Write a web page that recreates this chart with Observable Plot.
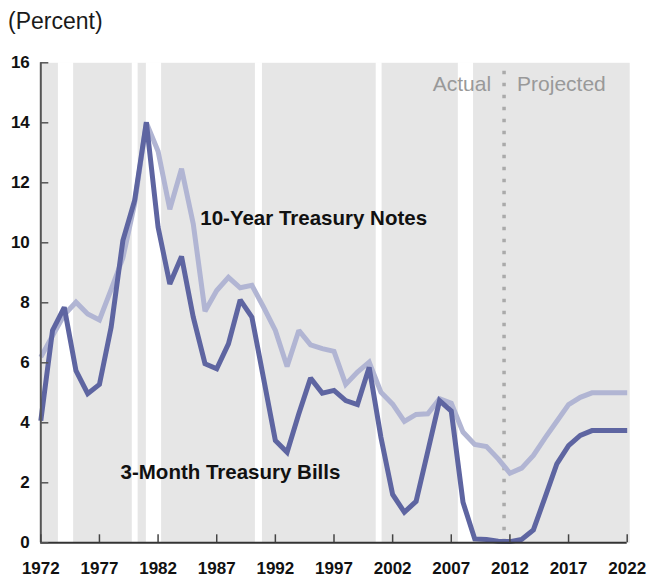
<!DOCTYPE html>
<html>
<head>
<meta charset="utf-8">
<script src="https://cdn.jsdelivr.net/npm/d3@7"></script>
<script src="https://cdn.jsdelivr.net/npm/@observablehq/plot@0.6"></script>
<style>
  body { margin: 0; background: #fff; }
  #sub { height: 36px; box-sizing: border-box; padding: 10px 0 0 8px; font: 23px/23px "Liberation Sans", Arial, sans-serif; color: #1a1a1a; }
  #chart svg { display: block; }
  g[aria-label="y-axis tick label"] text, g[aria-label="x-axis tick label"] text { font-weight: bold; font-size: 17px; fill: #111; }
</style>
</head>
<body>
<div id="sub">(Percent)</div>
<div id="chart"></div>
<script>
const years = d3.range(1972, 2023);
const bills = [4.07, 7.08, 7.85, 5.74, 4.97, 5.28, 7.19, 10.08, 11.41, 14.02,
  10.52, 8.63, 9.54, 7.52, 5.97, 5.80, 6.63, 8.10, 7.52, 5.47,
  3.41, 3.02, 4.30, 5.49, 4.99, 5.08, 4.74, 4.61, 5.85, 3.52,
  1.61, 1.02, 1.38, 3.05, 4.74, 4.39, 1.35, 0.13, 0.11, 0.05,
  0.04, 0.11, 0.43, 1.52, 2.63, 3.24, 3.58, 3.74, 3.74, 3.74, 3.74];
const notes = [6.19, 6.90, 7.60, 8.02, 7.63, 7.43, 8.45, 9.50, 11.30, 14.00,
  13.05, 11.12, 12.47, 10.63, 7.72, 8.41, 8.85, 8.50, 8.58, 7.85,
  7.08, 5.88, 7.08, 6.60, 6.47, 6.38, 5.28, 5.69, 6.02, 5.02,
  4.62, 4.05, 4.28, 4.30, 4.80, 4.65, 3.69, 3.28, 3.21, 2.80,
  2.32, 2.49, 2.91, 3.50, 4.05, 4.61, 4.85, 5.00, 5.00, 5.00, 5.00];
const recessionStart = [1973.5, 1979.8, 1981.0, 1990.3, 2000.6, 2007.6];
const recessionEnd   = [1974.8, 1980.3, 1982.3, 1990.9, 2001.1, 2008.9];
const projectionStart = 2011.5;
const xTicks = [1972, 1977, 1982, 1987, 1992, 1997, 2002, 2007, 2012, 2017, 2022];
const yTicks = [0, 2, 4, 6, 8, 10, 12, 14, 16];
const seriesLabels = [
  {text: "10-Year Treasury Notes", year: 1985.6, value: 10.6},
  {text: "3-Month Treasury Bills", year: 1978.8, value: 2.13}
];
const actualLabel = ["Actual"];
const projectedLabel = ["Projected"];

const billsData = years.map((y, i) => ({year: y, value: bills[i]}));
const notesData = years.map((y, i) => ({year: y, value: notes[i]}));
const recessions = recessionStart.map((s, i) => ({start: s, end: recessionEnd[i]}));

const W = 650, H = 542;
const mL = 40.3, mR = 23.3, mT = 26.3, mB = 35.7;
const plotW = W - mL - mR, plotH = H - mT - mB;
const font = '"Liberation Sans", Arial, sans-serif';

const chart = Plot.plot({
  width: W, height: H,
  marginLeft: mL, marginRight: mR, marginTop: mT, marginBottom: mB,
  style: {fontFamily: font, background: "#fff", overflow: "visible"},
  x: {type: "linear", domain: [1972, 2022]},
  y: {domain: [0, 16]},
  marks: [
    Plot.frame({fill: "#e6e6e6", stroke: null, insetRight: -2.5}),
    Plot.rect(recessions, {x1: "start", x2: "end", fill: "#ffffff"}),
    Plot.ruleX([projectionStart], {y1: 0, y2: 16, stroke: "#aaaaaa", strokeWidth: 3.5, strokeDasharray: "3.5 8.5"}),
    Plot.line(notesData, {x: "year", y: "value", stroke: "#b1b5d3", strokeWidth: 5, strokeLinejoin: "miter", strokeMiterlimit: 2, strokeLinecap: "butt"}),
    Plot.line(billsData, {x: "year", y: "value", stroke: "#5e65a1", strokeWidth: 5, strokeLinejoin: "miter", strokeMiterlimit: 2, strokeLinecap: "butt"}),
    Plot.ruleX([1972], {y1: 0, y2: 16, stroke: "#555", strokeWidth: 2}),
    Plot.ruleY([0], {stroke: "#333", strokeWidth: 2}),
    Plot.tickY(yTicks, {y: d => d, insetRight: plotW - 8, stroke: "#555", strokeWidth: 1.5}),
    Plot.tickX(xTicks, {x: d => d, insetTop: plotH - 8, stroke: "#444", strokeWidth: 1.5}),
    Plot.text(seriesLabels, {x: "year", y: "value", text: "text", textAnchor: "start", lineAnchor: "bottom", fontSize: 20.5, fontWeight: "bold", fill: "#111"}),
    Plot.text(actualLabel, {x: () => projectionStart, y: () => 16, text: d => d, textAnchor: "end", dx: -13, lineAnchor: "bottom", dy: 27.7, fontSize: 21, fill: "#999"}),
    Plot.text(projectedLabel, {x: () => projectionStart, y: () => 16, text: d => d, textAnchor: "start", dx: 13, lineAnchor: "bottom", dy: 27.7, fontSize: 21, fill: "#999"}),
    Plot.axisY(yTicks, {tickSize: 0, tickPadding: 11, tickFormat: d => String(d), label: null, fontWeight: "bold", fontSize: 17}),
    Plot.axisX(xTicks, {tickSize: 0, tickPadding: 19, tickFormat: d => String(d), label: null, fontWeight: "bold", fontSize: 17})
  ]
});
document.getElementById("chart").appendChild(chart);
</script>
</body>
</html>
